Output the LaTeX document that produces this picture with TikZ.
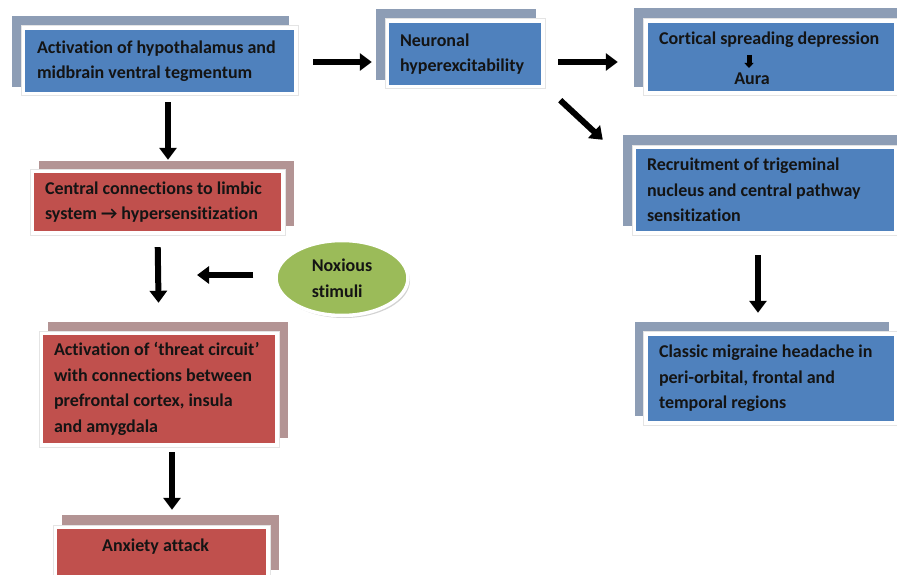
\documentclass[tikz,border=0pt]{standalone}
\usepackage{fontspec}
\setmainfont{Carlito}[Ligatures=NoCommon]
\usetikzlibrary{arrows.meta,shapes.geometric,shadows}
\definecolor{bfill}{HTML}{4F81BD}
\definecolor{bback}{HTML}{8D9DB5}
\definecolor{rfill}{HTML}{C0504D}
\definecolor{rback}{HTML}{B39494}
\definecolor{gfill}{HTML}{9BBB59}
\definecolor{rim}{HTML}{E4E4E4}
\begin{document}
\begin{tikzpicture}[x=1pt,y=-1pt,
  txt/.style={anchor=west, align=left, inner sep=0pt, font=\bfseries\fontsize{18}{25.5}\selectfont, text=black!92},
  bbox/.style={fill=bfill, draw=none, inner sep=0pt, rectangle},
  rbox/.style={fill=rfill, draw=none, inner sep=0pt, rectangle},
  backb/.style={fill=bback},
  backr/.style={fill=rback},
  rimbox/.style={fill=white, draw=rim, line width=0.6pt},
  arr/.style={draw=black, line width=6pt, -{Triangle[length=12pt,width=17pt]}},
  smallarr/.style={draw=black, line width=5pt, -{Triangle[length=5pt,width=9pt]}},
  noxious/.style={ellipse, fill=gfill, draw=white, line width=3.5pt, minimum width=132pt, minimum height=75pt, inner sep=0pt,
    drop shadow={shadow xshift=2pt, shadow yshift=-2.5pt, fill=black!35}}
]
\useasboundingbox (0,0) rectangle (897,575);

% Box 1
\fill[backb] (12,16) rectangle (289,87);
\filldraw[rimbox] (21,25) rectangle (298,95);
\node[bbox, minimum width=269pt, minimum height=62pt] (b1) at (159.5,61) {};
\node[txt] (t1) at ([xshift=12pt]b1.west) {Activation of hypothalamus and\\midbrain ventral tegmentum};

% Box 2
\fill[backb] (376,9) rectangle (536,80);
\filldraw[rimbox] (385,18) rectangle (545,88);
\node[bbox, minimum width=152pt, minimum height=62pt] (b2) at (465,54) {};
\node[txt] (t2) at ([xshift=11pt]b2.west) {Neuronal\\hyperexcitability};

% Box 3
\fill[backb] (634,8) rectangle (897,87);
\filldraw[rimbox] (643,18) rectangle (898,95);
\node[bbox, minimum width=246pt, minimum height=68pt] (b3) at (771,57) {};
\node[txt] (t3a) at (659,40) {Cortical spreading depression};
\node[txt, anchor=center] (t3b) at (752,79) {Aura};
\coordinate (s3a) at (749,55);
\coordinate (s3b) at (749,68);
\draw[smallarr] (s3a) -- (s3b);

% Box 4
\fill[backb] (623,135) rectangle (897,226);
\filldraw[rimbox] (632,145) rectangle (898,235);
\node[bbox, minimum width=258pt, minimum height=82pt] (b4) at (765,190) {};
\node[txt] (t4) at ([xshift=11pt]b4.west) {Recruitment of trigeminal\\nucleus and central pathway\\sensitization};

% Box 5
\fill[backb] (635,322) rectangle (889,416);
\filldraw[rimbox] (643,331) rectangle (898,425);
\node[bbox, minimum width=246pt, minimum height=85pt] (b5) at (771,378.5) {};
\node[txt] (t5) at ([xshift=11pt]b5.west) {Classic migraine headache in\\peri-orbital, frontal and\\temporal regions};

% Box 6
\fill[backr] (39,161) rectangle (294,226);
\filldraw[rimbox] (30,169) rectangle (285,235);
\node[rbox, minimum width=247pt, minimum height=58pt] (b6) at (157.5,202) {};
\node[txt] (t6) at ([xshift=11pt]b6.west) {Central connections to limbic\\system \textrightarrow\ hypersensitization};

% Box 7
\fill[backr] (48,322) rectangle (288,438);
\filldraw[rimbox] (39,331) rectangle (279,447);
\node[rbox, minimum width=232pt, minimum height=108pt] (b7) at (159,389) {};
\node[txt] (t7) at ([xshift=11pt]b7.west) {Activation of ‘threat circuit’\\with connections between\\prefrontal cortex, insula\\and amygdala};

% Box 8
\fill[backr] (62,515) rectangle (279,570);
\filldraw[rimbox] (53,525) rectangle (270,578);
\node[rbox, minimum width=209pt, minimum height=48pt] (b8) at (161.5,553) {};
\node[txt] (t8) at (102,547) {Anxiety attack};

% Ellipse
\node[noxious, txt, anchor=center] (nox) at (342,278) {Noxious\\stimuli};

% Arrows
\coordinate (junc) at (158,275);
\draw[arr, shorten <=10pt, shorten >=13pt] ([xshift=8.5pt]b1.south) -- ([xshift=10.5pt]b6.north);
\draw[arr, shorten <=19pt, shorten >=17pt] ([yshift=-1pt]b1.east) -- ([yshift=-8pt]b2.west);
\draw[arr, shorten <=17pt, shorten >=30pt] ([yshift=-8pt]b2.east) -- ([yshift=-5pt]b3.west);
\draw[arr] ([xshift=19pt,yshift=-15pt]b2.south east) -- ([xshift=-33pt,yshift=9pt]b4.north west);
\draw[arr, shorten <=24pt, shorten >=23pt] ([xshift=-7pt]b4.south) -- ([xshift=-13pt]b5.north);
\draw[arr, shorten <=16pt, shorten >=32pt] (b6.south) -- (b7.north);
\draw[arr, shorten <=21pt, shorten >=39pt] ([yshift=3pt]nox.west) -- (junc);
\draw[arr, shorten <=9pt, shorten >=19pt] ([xshift=13pt]b7.south) -- ([xshift=10.5pt]b8.north);
\end{tikzpicture}
\end{document}
